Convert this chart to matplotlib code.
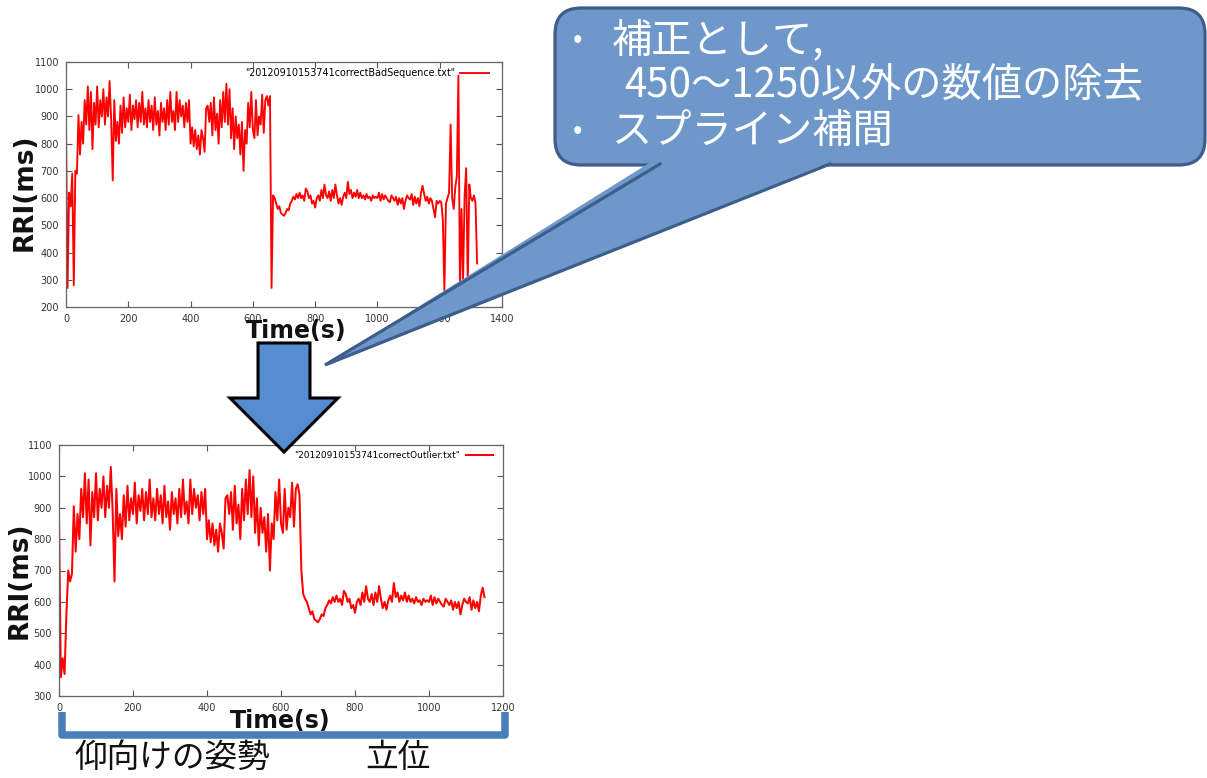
import numpy as np
import matplotlib
matplotlib.use("Agg")
import matplotlib.pyplot as plt
from matplotlib.patches import FancyBboxPatch, Polygon
from matplotlib.lines import Line2D

JP = ['Noto Sans CJK JP', 'DejaVu Sans']

# RRI (ms) sampled every 5 s after outlier removal, 0 .. 1150 s
step_s = 5
rri_clean = [
    870, 360, 420, 370, 560, 700, 665, 690, 905, 760,
    880, 800, 960, 870, 1010, 850, 990, 780, 950, 870,
    1010, 860, 960, 900, 1000, 870, 970, 900, 1030, 890,
    665, 960, 810, 880, 800, 940, 840, 970, 860, 930,
    880, 980, 850, 940, 890, 960, 860, 950, 880, 990,
    870, 930, 860, 960, 880, 940, 850, 970, 870, 920,
    830, 950, 880, 930, 850, 960, 870, 990, 880, 920,
    850, 990, 880, 960, 900, 940, 860, 950, 880, 960,
    800, 860, 790, 850, 780, 830, 760, 850, 820, 770,
    930, 940, 880, 950, 830, 970, 850, 910, 800, 960,
    860, 990, 880, 1020, 870, 1000, 820, 930, 780, 900,
    820, 870, 760, 880, 700, 850, 800, 950, 860, 990,
    850, 820, 960, 830, 900, 870, 980, 840, 960, 975,
    940, 700, 625, 610, 600, 580, 560, 570, 545, 540,
    535, 545, 560, 555, 580, 590, 605, 595, 615, 600,
    620, 600, 610, 590, 635, 625, 600, 610, 580, 590,
    565, 600, 610, 590, 630, 600, 650, 610, 600, 625,
    590, 630, 600, 650, 610, 580, 600, 575, 605, 620,
    600, 660, 615, 630, 600, 620, 605, 630, 600, 620,
    600, 610, 595, 615, 600, 605, 590, 610, 600, 605,
    600, 620, 590, 615, 595, 610, 600, 590, 585, 610,
    600, 590, 605, 575, 600, 580, 600, 560, 590, 610,
    600, 595, 615, 575, 605, 580, 600, 570, 620, 645,
    615,
]

# raw values that the correction replaced (time s -> RRI ms)
raw_spikes = {5: 270, 10: 620, 15: 570, 20: 690, 25: 280, 30: 700,
              655: 975, 660: 270}

# raw recording after 1150 s, including the bad beats at the end
rri_raw_tail = [
    590, 605, 580, 600, 590, 560, 530, 590, 580, 590,
    585, 520, 260, 580, 600, 620, 870, 600, 560, 640,
    680, 1050, 250, 560, 300, 610, 710, 280, 650, 600,
    590, 610, 580, 360,
]

t_clean = np.arange(len(rri_clean)) * step_s
rri_raw = list(rri_clean)
for t, v in raw_spikes.items():
    rri_raw[t // step_s] = v
rri_raw = rri_raw + rri_raw_tail
t_raw = np.arange(len(rri_raw)) * step_s

W, H = 1207, 778
fig = plt.figure(figsize=(W / 100, H / 100), dpi=100)


def px_rect(x0, y0, x1, y1):
    return [x0 / W, 1 - y1 / H, (x1 - x0) / W, (y1 - y0) / H]


def style_axes(ax, xmax, ymin, xstep, ystep):
    ax.set_xlim(0, xmax)
    ax.set_ylim(ymin, 1100)
    ax.set_xticks(np.arange(0, xmax + 1, xstep))
    ax.set_yticks(np.arange(ymin, 1101, ystep))
    ax.tick_params(direction='in', length=4, width=0.8, color='#555555',
                   top=True, right=True, labelsize=7, labelcolor='#333333',
                   pad=5)
    for sp in ax.spines.values():
        sp.set_color('#666666')
        sp.set_linewidth(0.9)
    ax.set_xlabel('Time(s)', fontsize=17, fontweight='bold', color='#111111')
    ax.set_ylabel('RRI(ms)', fontsize=19, fontweight='bold', color='#111111')


# background layer: posture bracket under the lower chart
back = fig.add_axes([0, 0, 1, 1], zorder=0)
back.set_xlim(0, W)
back.set_ylim(H, 0)
back.axis('off')
back.add_line(Line2D([62, 62, 505, 505], [712, 735, 735, 712],
                     color='#4A7EBB', lw=5.4, solid_joinstyle='round',
                     solid_capstyle='butt'))
back.text(75, 758, '仰向けの姿勢', fontsize=23.5, family=JP, color='#111111',
          ha='left', va='center')
back.text(365, 758, '立位', fontsize=23.5, family=JP, color='#111111',
          ha='left', va='center')

# raw RRI
ax1 = fig.add_axes(px_rect(66, 62, 502, 307), zorder=1)
ax1.plot(t_raw, rri_raw, color='#FF0000', lw=1.35,
         label='"20120910153741correctBadSequence.txt"')
style_axes(ax1, 1400, 200, 200, 100)
ax1.xaxis.set_label_coords(0.527, -0.05)
ax1.yaxis.set_label_coords(-0.066, 0.47)
ax1.legend(loc='upper right', frameon=False, markerfirst=False, fontsize=6.9,
           handlelength=3.0, borderaxespad=0.25, handletextpad=0.6,
           bbox_to_anchor=(0.985, 1.0))

# corrected RRI
ax2 = fig.add_axes(px_rect(59, 445, 503, 696), zorder=1)
ax2.plot(t_clean, rri_clean, color='#FF0000', lw=1.45,
         label='"20120910153741correctOutlier.txt"')
style_axes(ax2, 1200, 300, 200, 100)
ax2.xaxis.set_label_coords(0.498, -0.05)
ax2.yaxis.set_label_coords(-0.059, 0.46)
ax2.legend(loc='upper right', frameon=False, markerfirst=False, fontsize=6.5,
           handlelength=3.0, borderaxespad=0.25, handletextpad=0.6,
           bbox_to_anchor=(0.99, 1.0))

# front layer: callout and down arrow
front = fig.add_axes([0, 0, 1, 1], zorder=2)
front.set_xlim(0, W)
front.set_ylim(H, 0)
front.axis('off')
front.patch.set_alpha(0)

fill_c = '#6E98CA'
edge_c = '#3D5D8C'
box = FancyBboxPatch((555, 8), 650, 157,
                     boxstyle='round,pad=0,rounding_size=26',
                     fc=fill_c, ec=edge_c, lw=2.3)
front.add_patch(box)
tail = [(660, 164), (325, 365), (830, 164)]
front.add_patch(Polygon([(654, 160), (325, 365), (836, 160)], closed=True,
                        fc=fill_c, ec='none'))
front.add_line(Line2D([p[0] for p in tail], [p[1] for p in tail],
                      color=edge_c, lw=2.3, solid_joinstyle='miter'))

front.text(578, 40, '•', fontsize=20, family=JP, color='white',
           ha='center', va='center')
front.text(612, 40, '補正として,', fontsize=29, family=JP, color='white',
           ha='left', va='center')
front.text(624, 85, '450～1250以外の数値の除去', fontsize=29, family=JP,
           color='white', ha='left', va='center')
front.text(578, 131, '•', fontsize=20, family=JP, color='white',
           ha='center', va='center')
front.text(612, 131, 'スプライン補間', fontsize=29, family=JP, color='white',
           ha='left', va='center')

arrow = [(258, 343), (310, 343), (310, 398), (338, 398), (284, 452),
         (230, 398), (258, 398)]
front.add_patch(Polygon(arrow, closed=True, fc='#568CD2', ec='black', lw=2.2,
                        joinstyle='miter'))

fig.savefig('out.png', dpi=100)
